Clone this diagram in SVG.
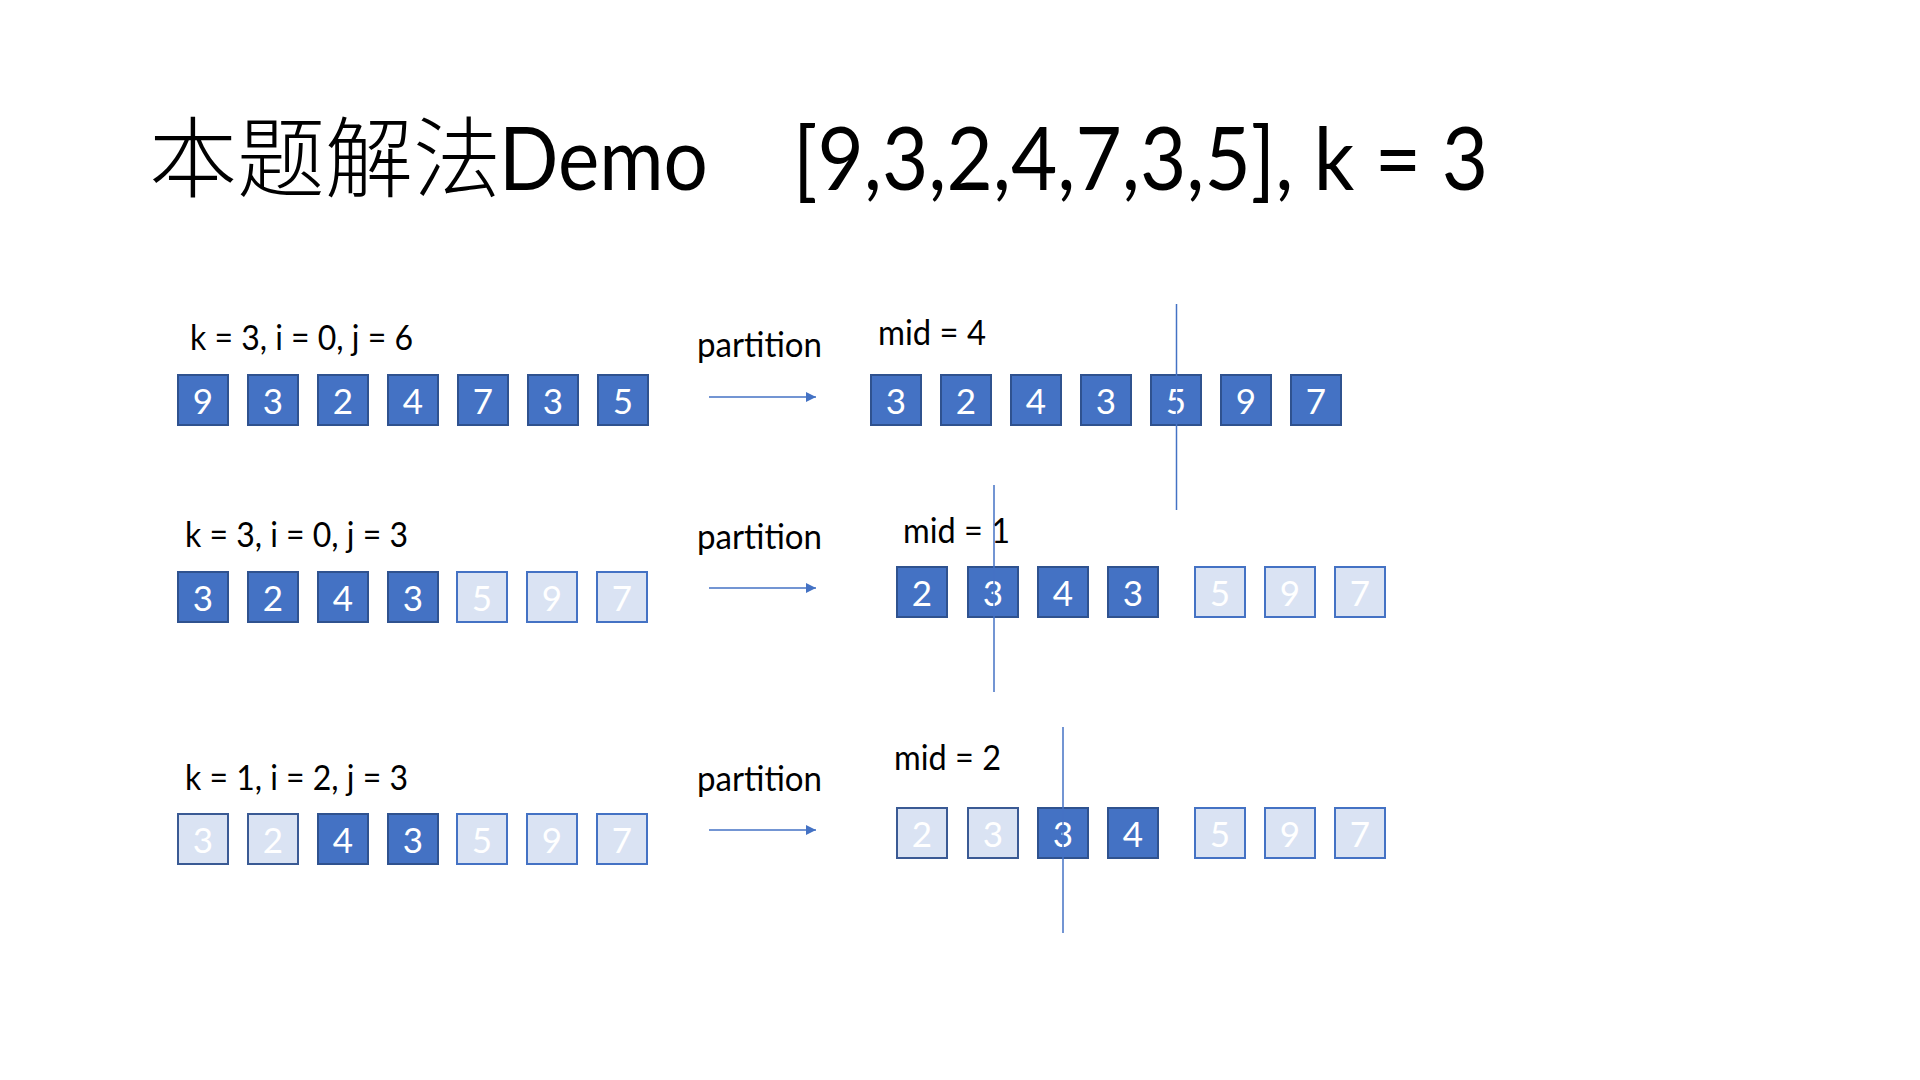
<svg xmlns="http://www.w3.org/2000/svg" width="1920" height="1080" viewBox="0 0 1920 1080">
<defs>
<style>
.bg{fill:#ffffff}
.title{font-family:"Lato","Open Sans","Noto Sans CJK SC",sans-serif;font-weight:400;font-size:88px;fill:#000}
.cjk{font-family:"Noto Sans CJK SC",sans-serif;font-weight:300}
.lbl{font-family:"Lato","Open Sans","Noto Sans",sans-serif;font-size:35px;fill:#000}
.dk rect{fill:#4472C4;stroke:#2F528F;stroke-width:2}
.lt rect{fill:#DAE3F3;stroke:#4472C4;stroke-width:2}
.lt2 rect{fill:#DAE3F3;stroke:#3A5A94;stroke-width:2}
.num{font-family:"Lato","Open Sans","Noto Sans",sans-serif;font-size:35px;fill:#ffffff;text-anchor:middle}
.div{stroke:#4472C4;stroke-width:1.5;fill:none}
.arr{stroke:#4472C4;stroke-width:1.5;fill:none;marker-end:url(#ah)}
</style>
<marker id="ah" viewBox="0 0 10 10" refX="10" refY="5" markerWidth="10" markerHeight="10" markerUnits="userSpaceOnUse" orient="auto">
<path d="M0,0 L10,5 L0,10 z" fill="#4472C4"/>
</marker>
</defs>
<rect class="bg" x="0" y="0" width="1920" height="1080"/>

<text class="title" x="149" y="190"><tspan class="cjk">本题解法</tspan><tspan x="499" textLength="209" lengthAdjust="spacingAndGlyphs">Demo</tspan><tspan x="793" textLength="695" lengthAdjust="spacingAndGlyphs">[9,3,2,4,7,3,5], k = 3</tspan></text>

<!-- Row 1 -->
<g id="row1-label"><text class="lbl" x="190" y="350" textLength="223" lengthAdjust="spacingAndGlyphs">k = 3, i = 0, j = 6</text></g>
<g id="row1-left">
<g id="r1l0" class="dk"><rect x="178" y="375" width="50" height="50"/><text class="num" x="203" y="414">9</text></g>
<g id="r1l1" class="dk"><rect x="248" y="375" width="50" height="50"/><text class="num" x="273" y="414">3</text></g>
<g id="r1l2" class="dk"><rect x="318" y="375" width="50" height="50"/><text class="num" x="343" y="414">2</text></g>
<g id="r1l3" class="dk"><rect x="388" y="375" width="50" height="50"/><text class="num" x="413" y="414">4</text></g>
<g id="r1l4" class="dk"><rect x="458" y="375" width="50" height="50"/><text class="num" x="483" y="414">7</text></g>
<g id="r1l5" class="dk"><rect x="528" y="375" width="50" height="50"/><text class="num" x="553" y="414">3</text></g>
<g id="r1l6" class="dk"><rect x="598" y="375" width="50" height="50"/><text class="num" x="623" y="414">5</text></g>
</g>
<g id="row1-partition"><text class="lbl" x="697" y="357" textLength="125" lengthAdjust="spacingAndGlyphs">partition</text></g>
<g id="row1-mid"><text class="lbl" x="878" y="345" textLength="108" lengthAdjust="spacingAndGlyphs">mid = 4</text></g>
<g id="row1-right">
<g id="r1r0" class="dk"><rect x="871" y="375" width="50" height="50"/><text class="num" x="896" y="414">3</text></g>
<g id="r1r1" class="dk"><rect x="941" y="375" width="50" height="50"/><text class="num" x="966" y="414">2</text></g>
<g id="r1r2" class="dk"><rect x="1011" y="375" width="50" height="50"/><text class="num" x="1036" y="414">4</text></g>
<g id="r1r3" class="dk"><rect x="1081" y="375" width="50" height="50"/><text class="num" x="1106" y="414">3</text></g>
<g id="r1r4" class="dk"><rect x="1151" y="375" width="50" height="50"/><text class="num" x="1176" y="414">5</text></g>
<g id="r1r5" class="dk"><rect x="1221" y="375" width="50" height="50"/><text class="num" x="1246" y="414">9</text></g>
<g id="r1r6" class="dk"><rect x="1291" y="375" width="50" height="50"/><text class="num" x="1316" y="414">7</text></g>
</g>

<!-- Row 2 -->
<g id="row2-label"><text class="lbl" x="185" y="547" textLength="223" lengthAdjust="spacingAndGlyphs">k = 3, i = 0, j = 3</text></g>
<g id="row2-left">
<g id="r2l0" class="dk"><rect x="178" y="572" width="50" height="50"/><text class="num" x="203" y="611">3</text></g>
<g id="r2l1" class="dk"><rect x="248" y="572" width="50" height="50"/><text class="num" x="273" y="611">2</text></g>
<g id="r2l2" class="dk"><rect x="318" y="572" width="50" height="50"/><text class="num" x="343" y="611">4</text></g>
<g id="r2l3" class="dk"><rect x="388" y="572" width="50" height="50"/><text class="num" x="413" y="611">3</text></g>
<g id="r2l4" class="lt"><rect x="457" y="572" width="50" height="50"/><text class="num" x="482" y="611">5</text></g>
<g id="r2l5" class="lt"><rect x="527" y="572" width="50" height="50"/><text class="num" x="552" y="611">9</text></g>
<g id="r2l6" class="lt"><rect x="597" y="572" width="50" height="50"/><text class="num" x="622" y="611">7</text></g>
</g>
<g id="row2-partition"><text class="lbl" x="697" y="549" textLength="125" lengthAdjust="spacingAndGlyphs">partition</text></g>
<g id="row2-mid"><text class="lbl" x="903" y="543" textLength="107" lengthAdjust="spacingAndGlyphs">mid = 1</text></g>
<g id="row2-right">
<g id="r2r0" class="dk"><rect x="897" y="567" width="50" height="50"/><text class="num" x="922" y="606">2</text></g>
<g id="r2r1" class="dk"><rect x="968" y="567" width="50" height="50"/><text class="num" x="993" y="606">3</text></g>
<g id="r2r2" class="dk"><rect x="1038" y="567" width="50" height="50"/><text class="num" x="1063" y="606">4</text></g>
<g id="r2r3" class="dk"><rect x="1108" y="567" width="50" height="50"/><text class="num" x="1133" y="606">3</text></g>
<g id="r2r4" class="lt"><rect x="1195" y="567" width="50" height="50"/><text class="num" x="1220" y="606">5</text></g>
<g id="r2r5" class="lt"><rect x="1265" y="567" width="50" height="50"/><text class="num" x="1290" y="606">9</text></g>
<g id="r2r6" class="lt"><rect x="1335" y="567" width="50" height="50"/><text class="num" x="1360" y="606">7</text></g>
</g>

<!-- Row 3 -->
<g id="row3-label"><text class="lbl" x="185" y="790" textLength="223" lengthAdjust="spacingAndGlyphs">k = 1, i = 2, j = 3</text></g>
<g id="row3-left">
<g id="r3l0" class="lt2"><rect x="178" y="814" width="50" height="50"/><text class="num" x="203" y="853">3</text></g>
<g id="r3l1" class="lt2"><rect x="248" y="814" width="50" height="50"/><text class="num" x="273" y="853">2</text></g>
<g id="r3l2" class="dk"><rect x="318" y="814" width="50" height="50"/><text class="num" x="343" y="853">4</text></g>
<g id="r3l3" class="dk"><rect x="388" y="814" width="50" height="50"/><text class="num" x="413" y="853">3</text></g>
<g id="r3l4" class="lt"><rect x="457" y="814" width="50" height="50"/><text class="num" x="482" y="853">5</text></g>
<g id="r3l5" class="lt"><rect x="527" y="814" width="50" height="50"/><text class="num" x="552" y="853">9</text></g>
<g id="r3l6" class="lt"><rect x="597" y="814" width="50" height="50"/><text class="num" x="622" y="853">7</text></g>
</g>
<g id="row3-partition"><text class="lbl" x="697" y="791" textLength="125" lengthAdjust="spacingAndGlyphs">partition</text></g>
<g id="row3-mid"><text class="lbl" x="894" y="770" textLength="107" lengthAdjust="spacingAndGlyphs">mid = 2</text></g>
<g id="row3-right">
<g id="r3r0" class="lt2"><rect x="897" y="808" width="50" height="50"/><text class="num" x="922" y="847">2</text></g>
<g id="r3r1" class="lt2"><rect x="968" y="808" width="50" height="50"/><text class="num" x="993" y="847">3</text></g>
<g id="r3r2" class="dk"><rect x="1038" y="808" width="50" height="50"/><text class="num" x="1063" y="847">3</text></g>
<g id="r3r3" class="dk"><rect x="1108" y="808" width="50" height="50"/><text class="num" x="1133" y="847">4</text></g>
<g id="r3r4" class="lt"><rect x="1195" y="808" width="50" height="50"/><text class="num" x="1220" y="847">5</text></g>
<g id="r3r5" class="lt"><rect x="1265" y="808" width="50" height="50"/><text class="num" x="1290" y="847">9</text></g>
<g id="r3r6" class="lt"><rect x="1335" y="808" width="50" height="50"/><text class="num" x="1360" y="847">7</text></g>
</g>

<!-- Dividers -->
<g id="dividers">
<line class="div" x1="1176.5" y1="304" x2="1176.5" y2="510"/>
<line class="div" x1="994" y1="485" x2="994" y2="692"/>
<line class="div" x1="1063" y1="727" x2="1063" y2="933"/>
</g>

<!-- Connectors -->
<g id="connectors">
<line class="arr" x1="709" y1="397" x2="816" y2="397"/>
<line class="arr" x1="709" y1="588" x2="816" y2="588"/>
<line class="arr" x1="709" y1="830" x2="816" y2="830"/>
</g>
</svg>
